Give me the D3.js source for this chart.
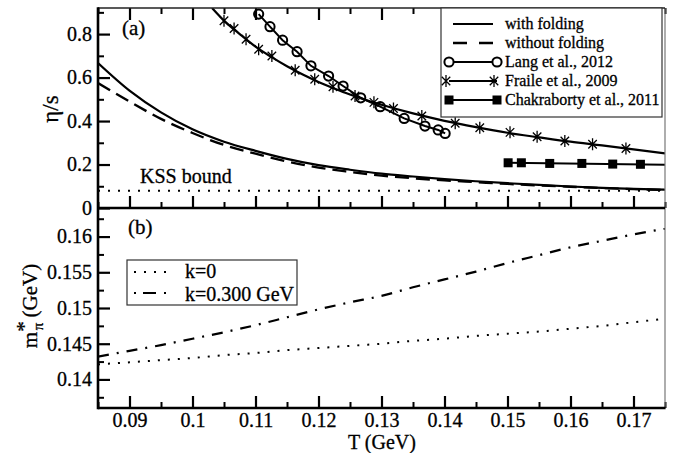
<!DOCTYPE html>
<html>
<head>
<meta charset="utf-8">
<script src="https://cdn.jsdelivr.net/npm/d3@7"></script>
<style>
  html, body { margin: 0; padding: 0; background: #fff; }
  svg { display: block; font-family: "Liberation Serif", "Times New Roman", serif; }
</style>
</head>
<body>
<svg id="chart" width="687" height="453"></svg>
<script>
// ---- panel (a): shear viscosity to entropy ratio ----
const foldT    = [0.085, 0.09, 0.095, 0.10, 0.105, 0.11, 0.115, 0.12, 0.125, 0.13, 0.135, 0.14, 0.145, 0.15, 0.155, 0.16, 0.165, 0.17, 0.175];
const withFold = [0.667, 0.54, 0.44, 0.362, 0.305, 0.263, 0.226, 0.197, 0.176, 0.158, 0.145, 0.133, 0.123, 0.114, 0.106, 0.099, 0.093, 0.088, 0.084];
const noFold   = [0.575, 0.49, 0.41, 0.345, 0.29, 0.25, 0.214, 0.186, 0.166, 0.149, 0.137, 0.127, 0.119, 0.111, 0.104, 0.098, 0.092, 0.087, 0.083];
const kssBound = 0.0796;

const langT   = [0.1105, 0.1123, 0.1143, 0.1166, 0.1188, 0.1216, 0.1239, 0.1267, 0.1298, 0.1336, 0.1369, 0.1390, 0.1401];
const langEta = [0.892, 0.834, 0.772, 0.719, 0.654, 0.607, 0.561, 0.507, 0.466, 0.412, 0.377, 0.359, 0.343];

const fraileCurveT   = [0.1031, 0.105, 0.1075, 0.11, 0.1125, 0.115, 0.1175, 0.12, 0.1225, 0.125, 0.1275, 0.13, 0.135, 0.14, 0.145, 0.15, 0.155, 0.16, 0.165, 0.17, 0.175];
const fraileCurveEta = [0.92, 0.862, 0.80, 0.742, 0.695, 0.652, 0.614, 0.58, 0.55, 0.522, 0.497, 0.475, 0.435, 0.401, 0.372, 0.346, 0.325, 0.305, 0.288, 0.27, 0.251];
const fraileT   = [0.1050, 0.1066, 0.1085, 0.1105, 0.1126, 0.1163, 0.1194, 0.1223, 0.1258, 0.1288, 0.1319, 0.1364, 0.1417, 0.1456, 0.1504, 0.1547, 0.1591, 0.1635, 0.1688];
const fraileEta = [0.861, 0.826, 0.776, 0.730, 0.699, 0.634, 0.592, 0.558, 0.515, 0.486, 0.458, 0.423, 0.390, 0.369, 0.348, 0.328, 0.308, 0.293, 0.274];

const chakT   = [0.1501, 0.1522, 0.1567, 0.1618, 0.1667, 0.1711];
const chakEta = [0.208, 0.208, 0.205, 0.205, 0.202, 0.201];
const chakLineT   = [0.1501, 0.175];
const chakLineEta = [0.208, 0.199];

// ---- panel (b): in-medium pion mass ----
const massT = [0.085, 0.09, 0.095, 0.10, 0.105, 0.11, 0.115, 0.12, 0.125, 0.13, 0.135, 0.14, 0.145, 0.15, 0.155, 0.16, 0.165, 0.17, 0.175];
const massK0   = [0.1421, 0.1424, 0.1427, 0.1430, 0.1434, 0.1437, 0.1441, 0.1444, 0.1447, 0.1450, 0.1454, 0.1457, 0.1461, 0.1464, 0.1467, 0.1471, 0.1475, 0.1480, 0.1485];
const massK300 = [0.1432, 0.1440, 0.1448, 0.1457, 0.1466, 0.1476, 0.1487, 0.1498, 0.1508, 0.1517, 0.1529, 0.1540, 0.1551, 0.1563, 0.1574, 0.1585, 0.1594, 0.1603, 0.1611];

// ---- ticks ----
const xMajor = [0.09, 0.10, 0.11, 0.12, 0.13, 0.14, 0.15, 0.16, 0.17];
const xMinor = [0.085, 0.095, 0.105, 0.115, 0.125, 0.135, 0.145, 0.155, 0.165, 0.175];
const xTickLabels = ["0.09", "0.1", "0.11", "0.12", "0.13", "0.14", "0.15", "0.16", "0.17"];
const yTopMajor = [0, 0.2, 0.4, 0.6, 0.8];
const yTopMinor = [0.1, 0.3, 0.5, 0.7, 0.9];
const yTopLabels = ["0", "0.2", "0.4", "0.6", "0.8"];
const yBotMajor = [0.14, 0.145, 0.15, 0.155, 0.16];
const yBotMinor = [0.1375, 0.1425, 0.1475, 0.1525, 0.1575, 0.1625];
const yBotLabels = ["0.14", "0.145", "0.15", "0.155", "0.16"];

const legendTop = ["with folding", "without folding", "Lang et al., 2012", "Fraile et al., 2009", "Chakraborty et al., 2011"];
const legendBot = ["k=0", "k=0.300 GeV"];

// ---- layout ----
const L = 98, R = 665, T0 = 8, MID = 208, B = 408;
const FONT = "'Liberation Serif', 'Times New Roman', serif";
const svg = d3.select("#chart");

const x = d3.scaleLinear().domain([0.085, 0.175]).range([L, R]);
const yTop = d3.scaleLinear().domain([0, 0.92]).range([MID, T0]);
const yBot = d3.scaleLinear().domain([0.136, 0.164]).range([B, MID]);

const zip = (a, b) => a.map((v, i) => [v, b[i]]);

// clip each panel
const defs = svg.append("defs");
defs.append("clipPath").attr("id", "clipTop").append("rect")
  .attr("x", L).attr("y", T0).attr("width", R - L).attr("height", MID - T0);
defs.append("clipPath").attr("id", "clipBot").append("rect")
  .attr("x", L).attr("y", MID).attr("width", R - L).attr("height", B - MID);

const gTop = svg.append("g").attr("clip-path", "url(#clipTop)");
const gBot = svg.append("g").attr("clip-path", "url(#clipBot)");

const lineTop = d3.line().x(d => x(d[0])).y(d => yTop(d[1])).curve(d3.curveMonotoneX);
const lineBot = d3.line().x(d => x(d[0])).y(d => yBot(d[1])).curve(d3.curveMonotoneX);
const lineTopStraight = d3.line().x(d => x(d[0])).y(d => yTop(d[1]));

// KSS bound
gTop.append("path").datum([[0.085, kssBound], [0.175, kssBound]])
  .attr("d", lineTopStraight).attr("fill", "none").attr("stroke", "#000")
  .attr("stroke-width", 2).attr("stroke-dasharray", "2,8");

// model curves
gTop.append("path").datum(zip(foldT, noFold)).attr("d", lineTop)
  .attr("fill", "none").attr("stroke", "#000").attr("stroke-width", 2.4).attr("stroke-dasharray", "14,7");
gTop.append("path").datum(zip(foldT, withFold)).attr("d", lineTop)
  .attr("fill", "none").attr("stroke", "#000").attr("stroke-width", 2.2);

// Fraile et al.
gTop.append("path").datum(zip(fraileCurveT, fraileCurveEta)).attr("d", lineTop)
  .attr("fill", "none").attr("stroke", "#000").attr("stroke-width", 2.2);

// six-armed asterisk marker
const starPath = r => {
  const a = r * Math.cos(Math.PI / 4), b = r * Math.sin(Math.PI / 4);
  return `M0,${-r}L0,${r}M${-a},${-b}L${a},${b}M${-a},${b}L${a},${-b}`;
};
gTop.selectAll(".star").data(zip(fraileT, fraileEta)).join("path")
  .attr("transform", d => `translate(${x(d[0])},${yTop(d[1])})`)
  .attr("d", starPath(6)).attr("stroke", "#000").attr("stroke-width", 1.3).attr("fill", "none");

// Lang et al.
gTop.append("path").datum(zip(langT, langEta)).attr("d", lineTopStraight)
  .attr("fill", "none").attr("stroke", "#000").attr("stroke-width", 2);
gTop.selectAll(".circ").data(zip(langT, langEta)).join("circle")
  .attr("cx", d => x(d[0])).attr("cy", d => yTop(d[1])).attr("r", 4.6)
  .attr("fill", "none").attr("stroke", "#000").attr("stroke-width", 2);

// Chakraborty et al.
gTop.append("path").datum(zip(chakLineT, chakLineEta)).attr("d", lineTopStraight)
  .attr("fill", "none").attr("stroke", "#000").attr("stroke-width", 2);
gTop.selectAll(".sq").data(zip(chakT, chakEta)).join("rect")
  .attr("x", d => x(d[0]) - 4.5).attr("y", d => yTop(d[1]) - 4.5)
  .attr("width", 9).attr("height", 9).attr("fill", "#000");

// panel (b) curves
gBot.append("path").datum(zip(massT, massK0)).attr("d", lineBot)
  .attr("fill", "none").attr("stroke", "#000").attr("stroke-width", 2).attr("stroke-dasharray", "2,8");
gBot.append("path").datum(zip(massT, massK300)).attr("d", lineBot)
  .attr("fill", "none").attr("stroke", "#000").attr("stroke-width", 2.2).attr("stroke-dasharray", "11,8,2,8");

// ---- axes ----
const axisStyle = (g, w) => {
  g.attr("font-family", FONT);
  g.select(".domain").remove();
  g.selectAll(".tick line").attr("stroke", "#000").attr("stroke-width", w);
  g.selectAll(".tick text").attr("font-family", FONT).attr("font-size", 20).attr("fill", "#000");
};

// top panel: left axis
svg.append("g").attr("transform", `translate(${L},0)`)
  .call(d3.axisLeft(yTop).tickValues(yTopMajor).tickSize(-12).tickPadding(6).tickFormat((d, i) => yTopLabels[i]))
  .call(g => axisStyle(g, 2.2));
svg.append("g").attr("transform", `translate(${L},0)`)
  .call(d3.axisLeft(yTop).tickValues(yTopMinor).tickSize(-6).tickFormat(""))
  .call(g => axisStyle(g, 2));
// top panel: top border ticks
svg.append("g").attr("transform", `translate(0,${T0})`)
  .call(d3.axisTop(x).tickValues(xMajor).tickSize(-12).tickFormat(""))
  .call(g => axisStyle(g, 2.2));
svg.append("g").attr("transform", `translate(0,${T0})`)
  .call(d3.axisTop(x).tickValues(xMinor).tickSize(-6).tickFormat(""))
  .call(g => axisStyle(g, 2));
// top panel: bottom ticks
svg.append("g").attr("transform", `translate(0,${MID})`)
  .call(d3.axisBottom(x).tickValues(xMajor).tickSize(-12).tickFormat(""))
  .call(g => axisStyle(g, 2.2));
svg.append("g").attr("transform", `translate(0,${MID})`)
  .call(d3.axisBottom(x).tickValues(xMinor).tickSize(-6).tickFormat(""))
  .call(g => axisStyle(g, 2));

// bottom panel: left axis
svg.append("g").attr("transform", `translate(${L},0)`)
  .call(d3.axisLeft(yBot).tickValues(yBotMajor).tickSize(-12).tickPadding(6).tickFormat((d, i) => yBotLabels[i]))
  .call(g => axisStyle(g, 2.2));
svg.append("g").attr("transform", `translate(${L},0)`)
  .call(d3.axisLeft(yBot).tickValues(yBotMinor).tickSize(-6).tickFormat(""))
  .call(g => axisStyle(g, 2));
// bottom panel: x axis
svg.append("g").attr("transform", `translate(0,${B})`)
  .call(d3.axisBottom(x).tickValues(xMajor).tickSize(-12).tickPadding(5).tickFormat((d, i) => xTickLabels[i]))
  .call(g => axisStyle(g, 2.2));
svg.append("g").attr("transform", `translate(0,${B})`)
  .call(d3.axisBottom(x).tickValues(xMinor).tickSize(-6).tickFormat(""))
  .call(g => axisStyle(g, 2));

// frame
svg.append("line").attr("x1", R).attr("x2", R).attr("y1", T0).attr("y2", B)
  .attr("stroke", "#777").attr("stroke-width", 1.2);
svg.append("line").attr("x1", L).attr("x2", R).attr("y1", T0).attr("y2", T0)
  .attr("stroke", "#222").attr("stroke-width", 1.6);
svg.append("line").attr("x1", L).attr("x2", R).attr("y1", MID).attr("y2", MID)
  .attr("stroke", "#000").attr("stroke-width", 2.6);
svg.append("line").attr("x1", L).attr("x2", R + 0.6).attr("y1", B).attr("y2", B)
  .attr("stroke", "#000").attr("stroke-width", 2.6);
svg.append("line").attr("x1", L).attr("x2", L).attr("y1", T0 - 0.8).attr("y2", B + 1.3)
  .attr("stroke", "#000").attr("stroke-width", 2.6);

// ---- legend, panel (a) ----
const lgA = svg.append("g");
lgA.append("rect").attr("x", 441).attr("y", T0).attr("width", 221).attr("height", 109)
  .attr("fill", "#fff").attr("stroke", "#333").attr("stroke-width", 1.2);
const rowY = [24, 43, 62, 81, 100];
lgA.append("line").attr("x1", 453).attr("x2", 493).attr("y1", rowY[0]).attr("y2", rowY[0])
  .attr("stroke", "#000").attr("stroke-width", 2.2);
lgA.append("line").attr("x1", 453).attr("x2", 493).attr("y1", rowY[1]).attr("y2", rowY[1])
  .attr("stroke", "#000").attr("stroke-width", 2.4).attr("stroke-dasharray", "14,12");
[2, 3, 4].forEach(i => {
  lgA.append("line").attr("x1", 449).attr("x2", 497).attr("y1", rowY[i]).attr("y2", rowY[i])
    .attr("stroke", "#000").attr("stroke-width", 2);
});
[449, 497].forEach(cx => {
  lgA.append("circle").attr("cx", cx).attr("cy", rowY[2]).attr("r", 4.6)
    .attr("fill", "#fff").attr("stroke", "#000").attr("stroke-width", 2);
  lgA.append("path").attr("transform", `translate(${cx - 3},${rowY[3]})`).attr("d", starPath(6))
    .attr("stroke", "#000").attr("stroke-width", 1.3).attr("fill", "none");
  lgA.append("rect").attr("x", cx - 4.5).attr("y", rowY[4] - 4.5).attr("width", 9).attr("height", 9).attr("fill", "#000");
});
lgA.selectAll(".lt").data(legendTop).join("text")
  .attr("x", 505).attr("y", (d, i) => rowY[i] + 5)
  .attr("font-size", 16).attr("fill", "#000").text(d => d);

// ---- legend, panel (b) ----
const lgB = svg.append("g");
lgB.append("rect").attr("x", 127).attr("y", 260).attr("width", 170).attr("height", 45)
  .attr("fill", "#fff").attr("stroke", "#333").attr("stroke-width", 1.2);
lgB.append("line").attr("x1", 134).attr("x2", 168).attr("y1", 272).attr("y2", 272)
  .attr("stroke", "#000").attr("stroke-width", 2).attr("stroke-dasharray", "2,8");
lgB.append("line").attr("x1", 134).attr("x2", 168).attr("y1", 293).attr("y2", 293)
  .attr("stroke", "#000").attr("stroke-width", 2.2).attr("stroke-dasharray", "2,7,13,8,2");
lgB.selectAll(".lb").data(legendBot).join("text")
  .attr("x", 185).attr("y", (d, i) => [278, 300.5][i])
  .attr("font-size", 20).attr("fill", "#000").text(d => d);

// ---- annotations ----
svg.append("text").attr("x", 122).attr("y", 35).attr("font-size", 21).text("(a)");
svg.append("text").attr("x", 128).attr("y", 234).attr("font-size", 21).text("(b)");
svg.append("text").attr("x", 140).attr("y", 183).attr("font-size", 20).text("KSS bound");

// axis titles
svg.append("text").attr("transform", "translate(58,109) rotate(-90)")
  .attr("text-anchor", "middle").attr("font-size", 23).text("η/s");

const yt = svg.append("text").attr("transform", "translate(37,306) rotate(-90)")
  .attr("text-anchor", "middle").attr("font-size", 21);
yt.append("tspan").text("m");
yt.append("tspan").attr("dy", -6).text("*");
yt.append("tspan").attr("dx", -9).attr("dy", 12).attr("font-size", 15).text("π");
yt.append("tspan").attr("dy", -6).text(" (GeV)");

svg.append("text").attr("x", 382).attr("y", 449).attr("text-anchor", "middle")
  .attr("font-size", 20).text("T (GeV)");

// consistent serif face with a slightly heavier print weight
svg.selectAll("text").attr("font-family", FONT)
  .attr("stroke", "#000").attr("stroke-width", 0.3);
</script>
</body>
</html>
